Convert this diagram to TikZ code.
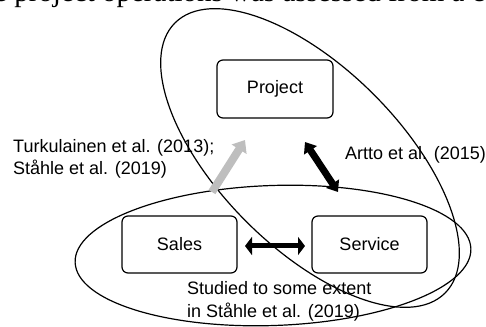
\documentclass[tikz,border=0pt]{standalone}
\usepackage{fontspec}
\setmainfont{Liberation Serif}
\newfontfamily\arialish{Liberation Sans}
\usetikzlibrary{arrows.meta}
\definecolor{arrowgray}{RGB}{190,190,190}
\tikzset{
  unitbox/.style={draw, line width=1.2pt, rounded corners=6pt, minimum width=115pt,
    minimum height=57pt, inner sep=0pt, font=\arialish\fontsize{18}{22}\selectfont},
  ring/.style={draw, line width=1.2pt},
  note/.style={inner sep=0pt, align=left, font=\arialish\fontsize{18}{22.5}\selectfont},
  blockgray/.style={draw=arrowgray, line width=8pt,
    -{Triangle[width=17pt,length=11pt]}, arrowgray},
  blockblack/.style={draw=black, line width=7pt,
    {Triangle[width=15pt,length=10pt]}-{Triangle[width=15pt,length=10pt]}},
  blockflat/.style={draw=black, line width=5pt,
    {Triangle[width=18pt,length=7pt]}-{Triangle[width=18pt,length=7pt]}}
}
\begin{document}
\begin{tikzpicture}[x=1pt,y=1pt]
\useasboundingbox (0,0) rectangle (486,326);
\clip (0,0) rectangle (486,326);

% running text of the page above the figure
\node[anchor=base west, inner sep=0pt, font=\fontsize{29}{34}\selectfont]
  (runtext) at (-6,324) {e project operations was assessed from a c};

% the two groupings
\draw[ring, rotate around={-45:(310,168)}] (310,168) ellipse (191 and 90);
\draw[ring, rotate around={2:(273,70.5)}] (273,70.5) ellipse (198 and 70);

% units
\node[unitbox, minimum width=116pt, minimum height=58pt] (project) at (275,237) {Project};
\node[unitbox] (sales) at (179.5,81.5) {Sales};
\node[unitbox] (service) at (369.5,81.5) {Service};

% arrow end points
\coordinate (g0) at (212,134);
\coordinate (g1) at (245,186);
\coordinate (b0) at (305,184);
\coordinate (b1) at (338,134);
\coordinate (h0) at (245,80);
\coordinate (h1) at (305,80);

\draw[blockgray] (g0) -- (g1);
\draw[blockblack] (b0) -- (b1);
\draw[blockflat] (h0) -- (h1);

% references
\node[note, anchor=west] (turku) at (13,167) {Turkulainen et al. (2013);\\Ståhle et al. (2019)};
\node[note, anchor=west] (artto) at (345,171) {Artto et al. (2015)};
\node[note, anchor=west] (studied) at (187,24.5) {Studied to some extent\\in Ståhle et al. (2019)};
\end{tikzpicture}
\end{document}
